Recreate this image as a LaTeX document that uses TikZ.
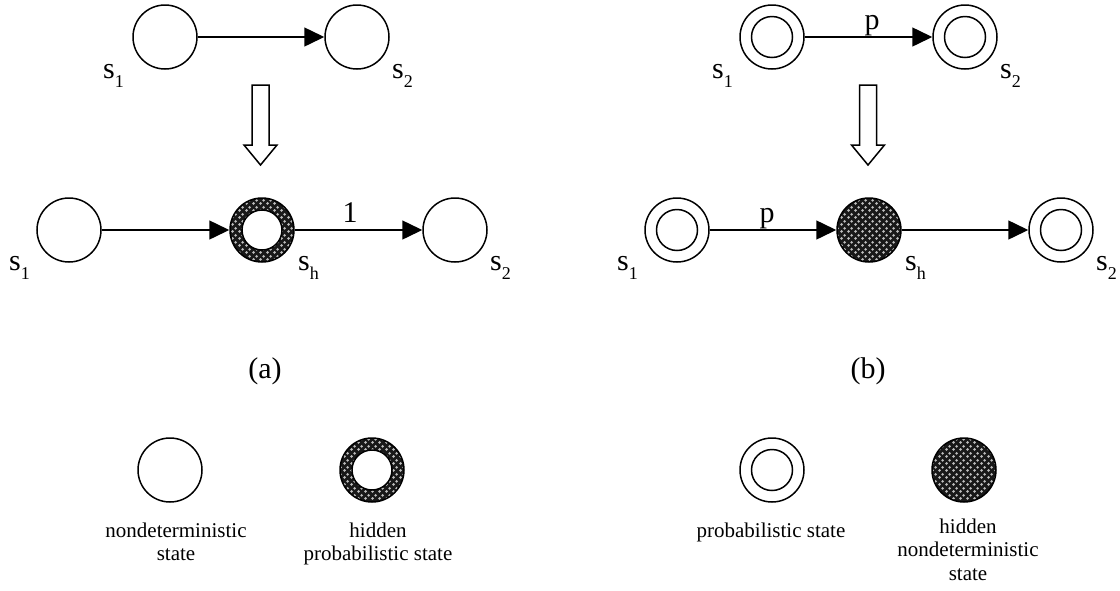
\documentclass[tikz,border=0pt]{standalone}
\usepackage{fontspec}
\setmainfont{Liberation Serif}
\usetikzlibrary{arrows.meta,patterns.meta}

\tikzdeclarepattern{
  name=hdots,
  type=uncolored,
  bounding box={(0pt,0pt) and (7pt,7pt)},
  tile size={(7pt,7pt)},
  code={
    \fill (1.75pt,1.75pt) circle (1.6pt);
    \fill (5.25pt,5.25pt) circle (1.6pt);
  }
}

\newcommand\lblsub[2]{#1\raisebox{-9pt}{\fontsize{18}{18}\selectfont #2}}

\begin{document}
\begin{tikzpicture}[x=1pt,y=-1pt,
  lw/.style={line width=1.5pt},
  st/.style={circle, draw, lw, minimum size=64pt, inner sep=0pt, outer sep=0.75pt},
  pst/.style={st, path picture={\draw[lw] (path picture bounding box.center) circle (20.5pt);}},
  hnst/.style={st, path picture={
      \fill[black!90] (path picture bounding box.south west) rectangle (path picture bounding box.north east);
      \fill[pattern=hdots, pattern color=white!75!black] (path picture bounding box.south west) rectangle (path picture bounding box.north east);}},
  hpst/.style={st, path picture={
      \fill[black!90] (path picture bounding box.south west) rectangle (path picture bounding box.north east);
      \fill[pattern=hdots, pattern color=white!75!black] (path picture bounding box.south west) rectangle (path picture bounding box.north east);
      \draw[lw, fill=white] (path picture bounding box.center) circle (20pt);}},
  arr/.style={lw, -{Triangle[length=20pt,width=19pt]}},
  big/.style={font=\fontsize{30}{36}\selectfont, inner sep=0pt},
  leg/.style={font=\fontsize{21}{23.5}\selectfont, align=center, inner sep=0pt, anchor=north},
  pics/hollowdown/.style={code={
      \draw[lw, fill=white] (-8.5,0) -- (8.5,0) -- (8.5,60) -- (16.5,60) -- (0,80) -- (-16.5,60) -- (-8.5,60) -- cycle;}}
]
\useasboundingbox (0,0) rectangle (1120,590);

% ---------- (a) ----------
\node[st] (a1) at (165,37) {};
\node[st] (a2) at (357,37) {};
\draw[arr] (a1) -- (a2);
\node[big, anchor=base west] (la1) at (103,78) {\lblsub{s}{1}};
\node[big, anchor=base west] (la2) at (392,78) {\lblsub{s}{2}};

\pic at (260.5,85) {hollowdown};

\node[st] (b1) at (69,230) {};
\node[hpst] (bh) at (262,230) {};
\node[st] (b2) at (455,230) {};
\draw[arr] (b1) -- (bh);
\draw[arr] (bh) -- (b2);
\node[big, anchor=base] (one) at (350,222) {1};
\node[big, anchor=base west] (lb1) at (9,270) {\lblsub{s}{1}};
\node[big, anchor=base west] (lbh) at (298,270) {\lblsub{s}{h}};
\node[big, anchor=base west] (lb2) at (490,270) {\lblsub{s}{2}};

\node[big, anchor=base] (capa) at (265,378) {(a)};

% ---------- (b) ----------
\node[pst] (c1) at (772,37) {};
\node[pst] (c2) at (965,37) {};
\draw[arr] (c1) -- (c2);
\node[big, anchor=base] (pc) at (872,29) {p};
\node[big, anchor=base west] (lc1) at (712,78) {\lblsub{s}{1}};
\node[big, anchor=base west] (lc2) at (1000,78) {\lblsub{s}{2}};

\pic at (868,85) {hollowdown};

\node[pst] (d1) at (677,230) {};
\node[hnst] (dh) at (869,230) {};
\node[pst] (d2) at (1061,230) {};
\draw[arr] (d1) -- (dh);
\draw[arr] (dh) -- (d2);
\node[big, anchor=base] (pd) at (767,222) {p};
\node[big, anchor=base west] (ld1) at (617,270) {\lblsub{s}{1}};
\node[big, anchor=base west] (ldh) at (905,270) {\lblsub{s}{h}};
\node[big, anchor=base west] (ld2) at (1096,270) {\lblsub{s}{2}};

\node[big, anchor=base] (capb) at (868,378) {(b)};

% ---------- legend ----------
\node[st] (g1) at (170,470) {};
\node[hpst] (g2) at (372,470) {};
\node[pst] (g3) at (772,470) {};
\node[hnst] (g4) at (964,470) {};
\node[leg] (t1) at (176,522.5) {nondeterministic\\state};
\node[leg] (t2) at (378,522.5) {hidden\\probabilistic state};
\node[leg] (t3) at (771,522.5) {probabilistic state};
\node[leg] (t4) at (968,518.5) {hidden\\nondeterministic\\state};
\end{tikzpicture}
\end{document}
